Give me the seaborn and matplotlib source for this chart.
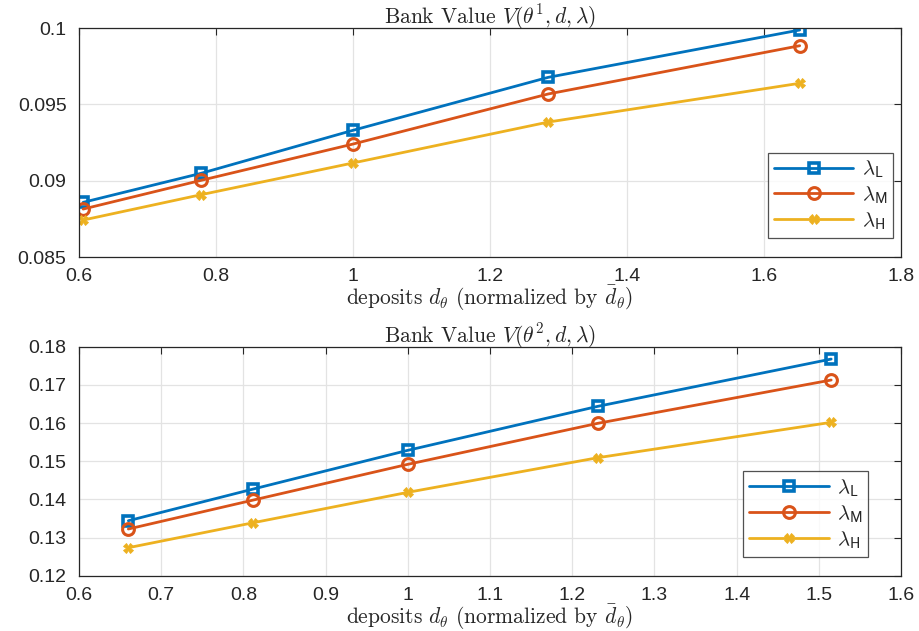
import numpy as np
import pandas as pd
import matplotlib
matplotlib.use("Agg")
import matplotlib.pyplot as plt
import seaborn as sns

# ---- data ----
lam_labels = [r"$\lambda_{\mathsf{L}}$", r"$\lambda_{\mathsf{M}}$", r"$\lambda_{\mathsf{H}}$"]

d1 = [0.606, 0.778, 1.0, 1.285, 1.652]
v1_L = [0.08858, 0.09048, 0.09330, 0.09677, 0.09987]
v1_M = [0.08814, 0.09002, 0.09240, 0.09568, 0.09884]
v1_H = [0.08742, 0.08908, 0.09116, 0.09384, 0.09638]

d2 = [0.660, 0.812, 1.0, 1.231, 1.515]
v2_L = [0.13441, 0.14272, 0.15286, 0.16438, 0.17677]
v2_M = [0.13224, 0.13983, 0.14919, 0.15993, 0.17128]
v2_H = [0.12734, 0.13389, 0.14185, 0.15092, 0.16019]

titles = [r"Bank Value $V(\theta^1,d,\lambda)$", r"Bank Value $V(\theta^2,d,\lambda)$"]
xlabel = r"deposits $d_\theta$ (normalized by $\bar{d}_\theta$)"

xticks1 = [0.6, 0.8, 1.0, 1.2, 1.4, 1.6, 1.8]
xticklabels1 = ["0.6", "0.8", "1", "1.2", "1.4", "1.6", "1.8"]
yticks1 = [0.085, 0.09, 0.095, 0.1]
yticklabels1 = ["0.085", "0.09", "0.095", "0.1"]

xticks2 = [0.6, 0.7, 0.8, 0.9, 1.0, 1.1, 1.2, 1.3, 1.4, 1.5, 1.6]
xticklabels2 = ["0.6", "0.7", "0.8", "0.9", "1", "1.1", "1.2", "1.3", "1.4", "1.5", "1.6"]
yticks2 = [0.12, 0.13, 0.14, 0.15, 0.16, 0.17, 0.18]
yticklabels2 = ["0.12", "0.13", "0.14", "0.15", "0.16", "0.17", "0.18"]

colors = ["#0072BD", "#D95319", "#EDB120"]
markers = ["s", "o", "X"]

sns.set_theme(style="white")
plt.rcParams["font.family"] = ["Liberation Sans", "DejaVu Sans"]
plt.rcParams["mathtext.fontset"] = "cm"
plt.rcParams["axes.formatter.use_mathtext"] = True

fig = plt.figure(figsize=(9.2, 6.31), dpi=100)
ax1 = fig.add_axes([0.0859, 0.5927, 0.8935, 0.3629])
ax2 = fig.add_axes([0.0859, 0.0876, 0.8935, 0.3629])

panels = [
    (ax1, d1, [v1_L, v1_M, v1_H], xticks1, xticklabels1, yticks1, yticklabels1, (0.6, 1.8), (0.085, 0.1), titles[0]),
    (ax2, d2, [v2_L, v2_M, v2_H], xticks2, xticklabels2, yticks2, yticklabels2, (0.6, 1.6), (0.12, 0.18), titles[1]),
]

msizes = {"s": 7, "o": 8.5, "X": 7}
mews = {"s": 2.6, "o": 2.2, "X": 0.6}

for ax, d, vals, xt, xtl, yt, ytl, xl, yl, title in panels:
    ax.grid(True, color="#e3e3e3", linewidth=0.9)
    ax.set_axisbelow(True)
    for lab, v, c, m in zip(lam_labels, vals, colors, markers):
        df = pd.DataFrame({"d": d, "V": v})
        sns.lineplot(data=df, x="d", y="V", ax=ax, color=c, linewidth=2.0,
                     marker=m, markersize=msizes[m],
                     markerfacecolor="none" if m != "X" else c,
                     markeredgecolor=c, markeredgewidth=mews[m],
                     label=lab)
    ax.set_xlim(*xl)
    ax.set_ylim(*yl)
    ax.set_xticks(xt)
    ax.set_xticklabels(xtl)
    ax.set_yticks(yt)
    ax.set_yticklabels(ytl)
    ax.tick_params(direction="in", length=5, width=0.8, colors="#262626",
                   labelsize=14, top=True, right=True, labelcolor="#262626")
    ax.tick_params(axis="y", pad=9)
    ax.tick_params(axis="x", pad=8)
    for s in ax.spines.values():
        s.set_visible(True)
        s.set_color("#262626")
        s.set_linewidth(0.9)
    ax.set_xlabel(xlabel, fontsize=15.5, family="cmr10", labelpad=-1)
    ax.set_ylabel("")
    ax.set_title(title, fontsize=15.5, family="cmr10", pad=3)
    leg = ax.legend(loc="lower right", bbox_to_anchor=(0.998 if ax is ax1 else 0.968, 0.055),
                    fontsize=15, frameon=True, fancybox=False, edgecolor="#262626",
                    handlelength=3.8, borderpad=0.3, labelspacing=0.2, handletextpad=0.4,
                    borderaxespad=0.3)
    leg.get_frame().set_linewidth(0.9)

fig.savefig("out.png", dpi=100)
